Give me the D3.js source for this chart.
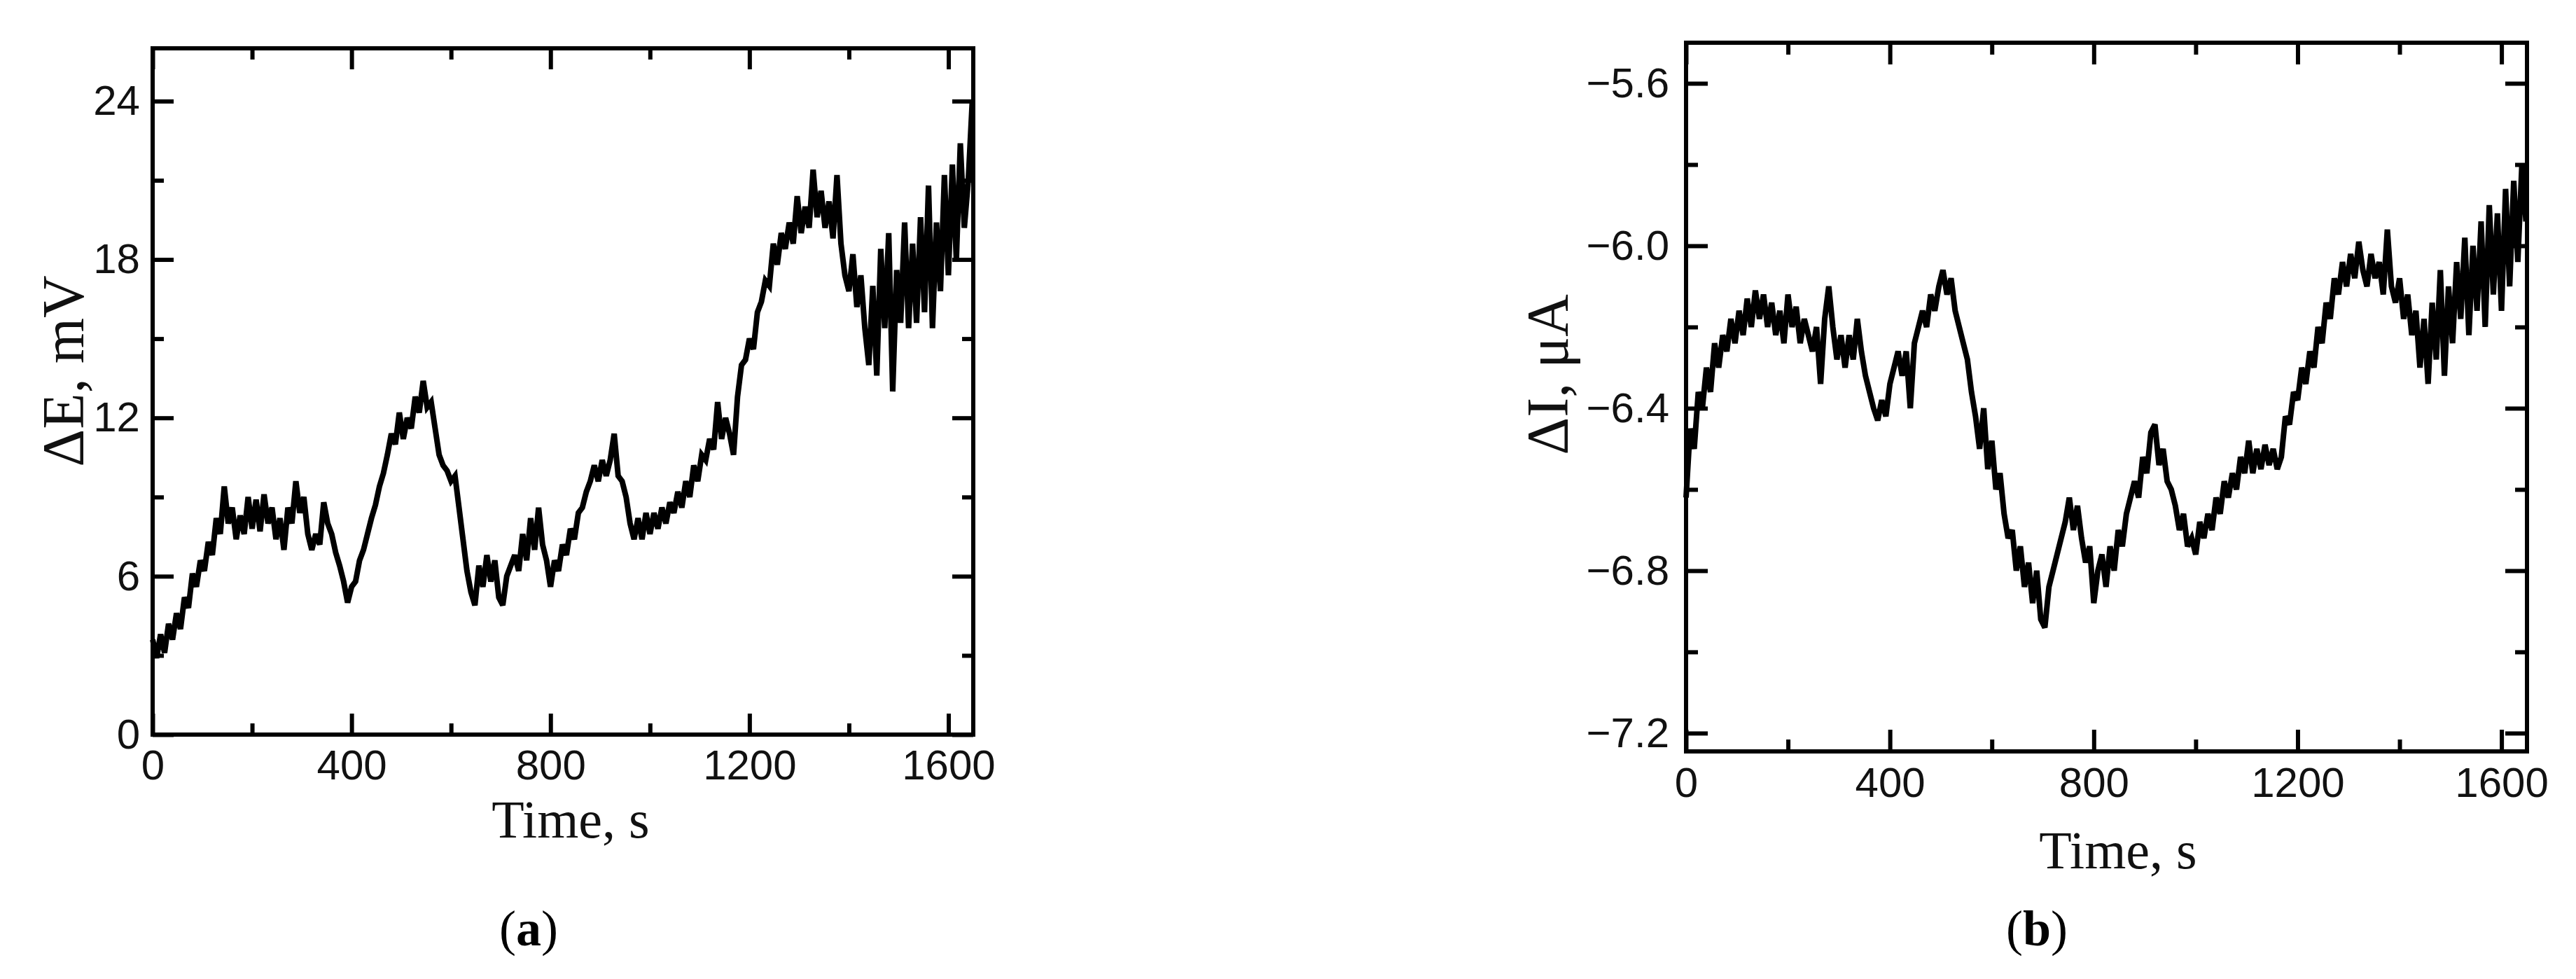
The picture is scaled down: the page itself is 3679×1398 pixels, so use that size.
<!DOCTYPE html>
<html>
<head>
<meta charset="utf-8">
<script src="https://cdn.jsdelivr.net/npm/d3@7"></script>
<style>
  html, body { margin: 0; padding: 0; background: #fff; }
  svg { display: block; }
</style>
</head>
<body>
<svg id="fig" width="3679" height="1398"></svg>
<script>
// ---------------- DATA ----------------
const sampleStep = 8; // seconds between samples
const timeMajorTicks = [0, 400, 800, 1200, 1600];
const timeMinorTicks = [200, 600, 1000, 1400];

// (a) potential difference, mV
const deltaE = [
  3.6,2.9,3.8,3.1,4.2,3.6,4.6,4.0,5.2,4.8,
  6.1,5.6,6.6,6.2,7.3,6.8,8.2,7.6,9.4,8.0,
  8.6,7.4,8.3,7.6,9.0,7.8,8.9,7.7,9.1,8.0,
  8.6,7.4,8.2,7.0,8.6,8.0,9.6,8.4,9.0,7.6,
  7.0,7.6,7.2,8.8,8.0,7.6,6.9,6.4,5.8,5.0,
  5.6,5.8,6.6,7.0,7.6,8.2,8.7,9.4,9.9,10.6,
  11.4,11.0,12.2,11.2,12.0,11.6,12.8,12.2,13.4,12.4,
  12.6,11.6,10.6,10.2,10.0,9.6,9.8,8.6,7.4,6.2,
  5.4,4.9,6.4,5.6,6.8,5.8,6.6,5.2,4.9,6.0,
  6.4,6.8,6.2,7.6,6.6,8.2,7.0,8.6,7.2,6.6,
  5.6,6.6,6.2,7.2,6.8,7.8,7.4,8.4,8.6,9.2,
  9.6,10.2,9.6,10.4,9.8,10.4,11.4,9.8,9.6,9.0,
  8.0,7.4,8.2,7.4,8.4,7.6,8.4,7.8,8.6,8.0,
  8.8,8.4,9.2,8.6,9.6,9.0,10.2,9.6,10.6,10.4,
  11.2,10.8,12.6,11.2,12.0,11.4,10.6,12.8,14.0,14.2,
  15.0,14.6,16.0,16.4,17.2,17.0,18.6,17.8,19.0,18.4,
  19.4,18.6,20.4,19.0,20.0,19.2,21.4,19.6,20.6,19.2,
  20.2,18.8,21.2,18.6,17.4,16.8,18.2,16.2,17.4,15.4,
  14.0,17.0,13.6,18.4,15.4,19.0,13.0,17.6,15.6,19.4,
  15.4,18.6,15.6,19.6,16.0,20.8,15.4,19.4,16.8,21.2,
  17.4,21.6,18.0,22.4,19.2,21.0,24.0
];
const deltaETicks = [0, 6, 12, 18, 24];
const deltaEMinor = [3, 9, 15, 21];

// (b) current difference, µA
const deltaI = [
  -6.62,-6.45,-6.50,-6.36,-6.40,-6.30,-6.36,-6.24,-6.30,-6.22,
  -6.26,-6.18,-6.24,-6.16,-6.22,-6.13,-6.20,-6.11,-6.18,-6.12,
  -6.20,-6.14,-6.22,-6.16,-6.24,-6.12,-6.20,-6.15,-6.24,-6.18,
  -6.22,-6.26,-6.20,-6.34,-6.18,-6.10,-6.20,-6.28,-6.22,-6.30,
  -6.22,-6.28,-6.18,-6.26,-6.32,-6.36,-6.40,-6.43,-6.38,-6.42,
  -6.34,-6.30,-6.26,-6.32,-6.26,-6.40,-6.24,-6.20,-6.16,-6.20,
  -6.12,-6.16,-6.10,-6.06,-6.12,-6.08,-6.16,-6.20,-6.24,-6.28,
  -6.36,-6.42,-6.50,-6.40,-6.55,-6.48,-6.60,-6.56,-6.66,-6.72,
  -6.70,-6.80,-6.74,-6.84,-6.78,-6.88,-6.80,-6.92,-6.94,-6.84,
  -6.80,-6.76,-6.72,-6.68,-6.62,-6.70,-6.64,-6.72,-6.78,-6.74,
  -6.88,-6.80,-6.76,-6.84,-6.74,-6.80,-6.70,-6.74,-6.66,-6.62,
  -6.58,-6.62,-6.52,-6.56,-6.46,-6.44,-6.54,-6.50,-6.58,-6.60,
  -6.64,-6.70,-6.66,-6.74,-6.72,-6.76,-6.68,-6.72,-6.66,-6.70,
  -6.62,-6.66,-6.58,-6.62,-6.56,-6.60,-6.52,-6.56,-6.48,-6.56,
  -6.50,-6.55,-6.49,-6.54,-6.50,-6.55,-6.52,-6.42,-6.44,-6.36,
  -6.38,-6.30,-6.34,-6.26,-6.30,-6.20,-6.24,-6.14,-6.18,-6.08,
  -6.12,-6.04,-6.10,-6.02,-6.08,-5.99,-6.06,-6.10,-6.02,-6.08,
  -6.04,-6.12,-5.96,-6.10,-6.14,-6.08,-6.18,-6.12,-6.22,-6.16,
  -6.30,-6.18,-6.34,-6.14,-6.28,-6.06,-6.32,-6.10,-6.24,-6.04,
  -6.18,-5.98,-6.22,-6.00,-6.16,-5.94,-6.20,-5.90,-6.12,-5.92,
  -6.16,-5.86,-6.10,-5.84,-6.04,-5.80,-5.94
];
const deltaITicks = [-7.2, -6.8, -6.4, -6.0, -5.6];
const deltaIMinor = [-7.0, -6.6, -6.2, -5.8];

// ---------------- DRAW ----------------
const svg = d3.select("#fig");
svg.append("rect").attr("width", 3679).attr("height", 1398).attr("fill", "#fff");

const sansFont = "'Liberation Sans', Arial, Helvetica, sans-serif";
const serifFont = "'Liberation Serif', 'Times New Roman', serif";

function panel(cfg) {
  const g = svg.append("g");
  const x = d3.scaleLinear().domain([0, 1650]).range([cfg.left, cfg.right]);
  const y = d3.scaleLinear().domain(cfg.yDomain).range([cfg.bottom, cfg.top]);

  const styleAxis = sel => {
    sel.select(".domain").remove();
    sel.selectAll(".tick line").attr("stroke", "#000").attr("stroke-width", cfg.tickW);
    sel.selectAll("text").attr("fill", "#111").style("font-family", sansFont).style("font-size", cfg.tickFont + "px");
  };

  // bottom major with labels
  g.append("g").attr("transform", `translate(0,${cfg.bottom})`)
    .call(d3.axisBottom(x).tickValues(timeMajorTicks).tickSize(-cfg.majorLen).tickPadding(cfg.xPad).tickFormat(d3.format("d")))
    .call(styleAxis);
  g.append("g").attr("transform", `translate(0,${cfg.bottom})`)
    .call(d3.axisBottom(x).tickValues(timeMinorTicks).tickSize(-cfg.minorLen).tickFormat(""))
    .call(styleAxis);
  // top mirror
  g.append("g").attr("transform", `translate(0,${cfg.top})`)
    .call(d3.axisTop(x).tickValues(timeMajorTicks).tickSize(-cfg.majorLen).tickFormat(""))
    .call(styleAxis);
  g.append("g").attr("transform", `translate(0,${cfg.top})`)
    .call(d3.axisTop(x).tickValues(timeMinorTicks).tickSize(-cfg.minorLen).tickFormat(""))
    .call(styleAxis);
  // left with labels
  g.append("g").attr("transform", `translate(${cfg.left},0)`)
    .call(d3.axisLeft(y).tickValues(cfg.yTicks).tickSize(-cfg.majorLen).tickPadding(cfg.yPad).tickFormat(cfg.yFormat))
    .call(styleAxis);
  g.append("g").attr("transform", `translate(${cfg.left},0)`)
    .call(d3.axisLeft(y).tickValues(cfg.yMinor).tickSize(-cfg.minorLen).tickFormat(""))
    .call(styleAxis);
  // right mirror
  g.append("g").attr("transform", `translate(${cfg.right},0)`)
    .call(d3.axisRight(y).tickValues(cfg.yTicks).tickSize(-cfg.majorLen).tickFormat(""))
    .call(styleAxis);
  g.append("g").attr("transform", `translate(${cfg.right},0)`)
    .call(d3.axisRight(y).tickValues(cfg.yMinor).tickSize(-cfg.minorLen).tickFormat(""))
    .call(styleAxis);

  // data line
  const line = d3.line().x((d, i) => x(i * sampleStep)).y(d => y(d));
  g.append("path").datum(cfg.values)
    .attr("d", line)
    .attr("fill", "none").attr("stroke", "#000")
    .attr("stroke-width", cfg.lineW).attr("stroke-linejoin", "miter").attr("stroke-miterlimit", 3);

  // frame
  g.append("rect")
    .attr("x", cfg.left).attr("y", cfg.top)
    .attr("width", cfg.right - cfg.left).attr("height", cfg.bottom - cfg.top)
    .attr("fill", "none").attr("stroke", "#000").attr("stroke-width", cfg.frameW);

  // axis titles
  g.append("text")
    .attr("x", cfg.xTitle[0]).attr("y", cfg.xTitle[1])
    .attr("text-anchor", "middle")
    .style("font-family", serifFont).style("font-size", cfg.xTitleFont + "px").attr("fill", "#111")
    .text("Time, s");
  g.append("text")
    .attr("transform", `translate(${cfg.yTitle[0]},${cfg.yTitle[1]}) rotate(-90)`)
    .attr("text-anchor", "middle").attr("dy", "0.35em")
    .style("font-family", serifFont).style("font-size", cfg.yTitleFont + "px").attr("fill", "#111")
    .text(cfg.yLabel);

  // panel letter
  const pl = svg.append("text")
    .attr("x", cfg.letter[0]).attr("y", cfg.letter[1])
    .attr("text-anchor", "middle")
    .style("font-family", serifFont).style("font-size", "72px").attr("fill", "#000");
  pl.append("tspan").text("(");
  pl.append("tspan").attr("font-weight", "bold").text(cfg.letterChar);
  pl.append("tspan").text(")");
}

panel({
  left: 218, right: 1390, top: 69, bottom: 1049,
  yDomain: [0, 26], yTicks: deltaETicks, yMinor: deltaEMinor, yFormat: d3.format("d"),
  values: deltaE, majorLen: 30, minorLen: 16, tickW: 6, frameW: 6, lineW: 8,
  tickFont: 60, xPad: 21, yPad: 18, xTitleFont: 76, yTitleFont: 84,
  xTitle: [815, 1196], yTitle: [90, 530], yLabel: "ΔE, mV",
  letter: [755, 1350], letterChar: "a"
});

panel({
  left: 2408, right: 3609, top: 61, bottom: 1073,
  yDomain: [-7.245, -5.5], yTicks: deltaITicks, yMinor: deltaIMinor, yFormat: d3.format(".1f"),
  values: deltaI, majorLen: 31, minorLen: 17, tickW: 6, frameW: 6, lineW: 8,
  tickFont: 60, xPad: 22, yPad: 24, xTitleFont: 76, yTitleFont: 84,
  xTitle: [3025, 1240], yTitle: [2210, 535], yLabel: "ΔI, μA",
  letter: [2909, 1350], letterChar: "b"
});
</script>
</body>
</html>
